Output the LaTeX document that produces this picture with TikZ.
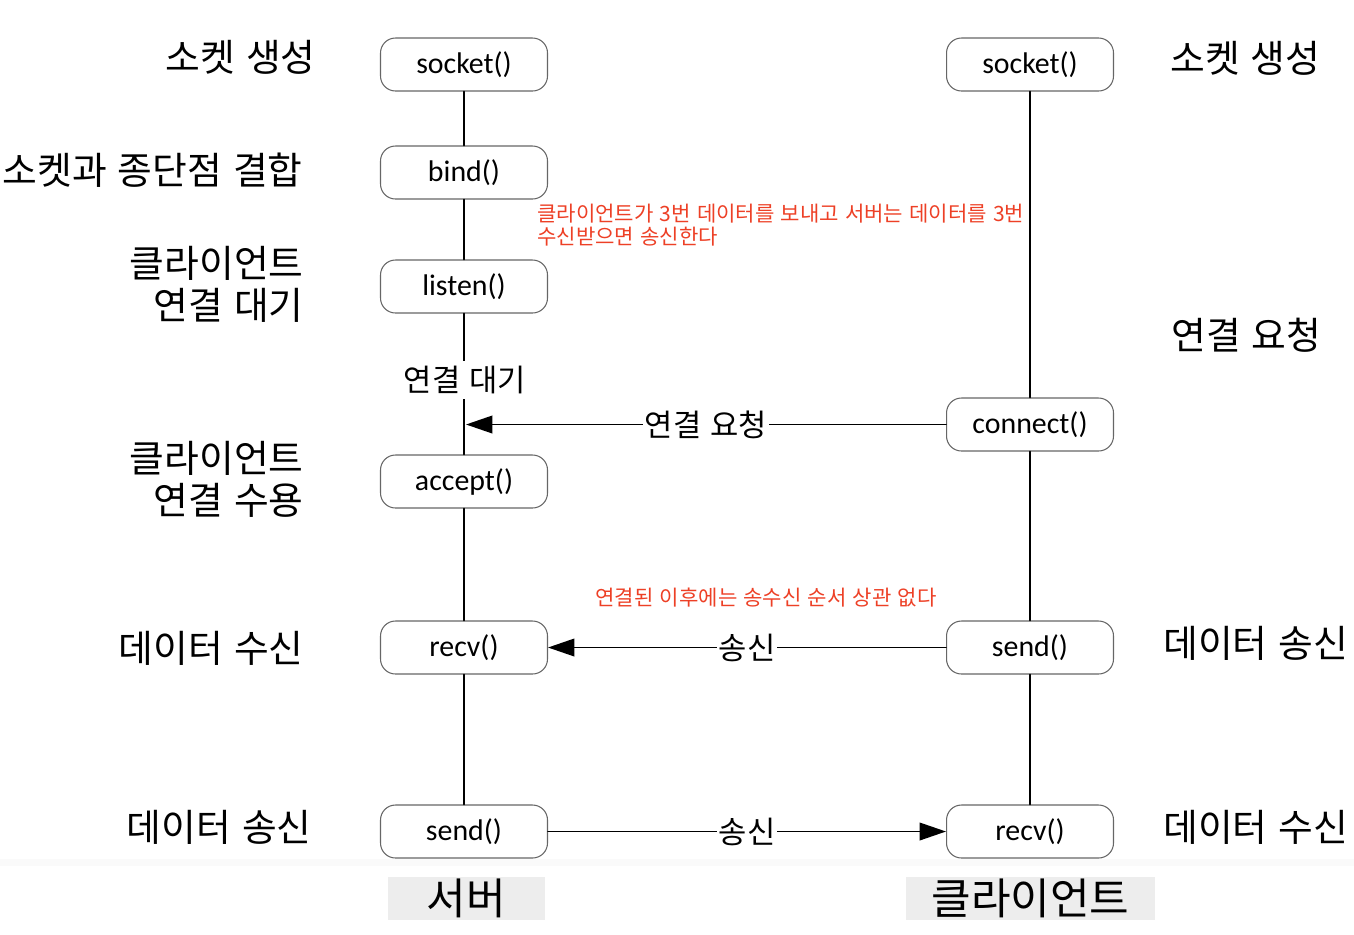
\documentclass[tikz,border=0pt]{standalone}
\usepackage{fontspec}
\setmainfont{Carlito}
\newfontfamily\kor[WordSpace=1.3]{Noto Sans CJK KR}
\usetikzlibrary{arrows.meta}
\definecolor{eettqq}{rgb}{0.93,0.25,0.15}
\definecolor{ebebeb}{rgb}{0.93,0.93,0.93}
\definecolor{wwwwww}{rgb}{0.4,0.4,0.4}

\begin{document}
\begin{tikzpicture}[x=0.02cm,y=-0.02cm,line cap=round,line join=round,>={Triangle[length=15pt,width=10pt]},
  fn/.style={draw=wwwwww,line width=0.6pt,fill=white,rounded corners=8.5pt,minimum width=3.34cm,minimum height=1.06cm,font=\fontsize{17}{19}\selectfont},
  side/.style={inner sep=0pt,font=\kor\fontsize{21.5}{24}\selectfont},
  msg/.style={fill=white,inner sep=1pt,font=\kor\fontsize{17.5}{19}\selectfont},
  note/.style={text=eettqq,inner sep=0pt,align=left,font=\kor\fontsize{12}{13}\selectfont},
  tag/.style={fill=ebebeb,inner sep=0pt,text height=20pt,text depth=2pt,minimum height=0.86cm,font=\kor\fontsize{24.5}{26}\selectfont}]
\useasboundingbox (0,0) rectangle (1354,934);
\fill[black!2] (0,859) rectangle (1354,866);
% server side
\node[fn] (ssocket) at (464,64.5) {socket()};
\node[fn] (sbind) at (464,172.5) {bind()};
\node[fn] (slisten) at (464,286.5) {listen()};
\node[fn] (saccept) at (464,481.5) {accept()};
\node[fn] (srecv) at (464,647.5) {recv()};
\node[fn] (ssend) at (464,831.5) {send()};
% client side
\node[fn] (csocket) at (1030,64.5) {socket()};
\node[fn] (cconnect) at (1030,424.5) {connect()};
\node[fn] (csend) at (1030,647.5) {send()};
\node[fn] (crecv) at (1030,831.5) {recv()};
% life lines
\draw[line width=1.1pt] (ssocket) -- (sbind);
\draw[line width=1.1pt] (sbind) -- (slisten);
\draw[line width=1.1pt] (slisten) -- (saccept);
\draw[line width=1.1pt] (saccept) -- (srecv);
\draw[line width=1.1pt] (srecv) -- (ssend);
\draw[line width=1.1pt] (csocket) -- (cconnect);
\draw[line width=1.1pt] (cconnect) -- (csend);
\draw[line width=1.1pt] (csend) -- (crecv);
\node[msg,inner sep=3pt] (wait) at (465,380) {연결 대기};
\coordinate (hit) at (466,424.5);
% messages
\draw[line width=1.1pt,->] (cconnect) -- (hit) node[msg,midway] (req) {연결 요청};
\draw[line width=1.1pt,->] (csend) -- (srecv) node[msg,midway] (tx1) {송신};
\draw[line width=1.1pt,->] (ssend) -- (crecv) node[msg,midway] (tx2) {송신};
% labels
\node[side,anchor=east] (l1) at (316,57) {소켓 생성};
\node[side,anchor=east] (l2) at (303,170) {소켓과 종단점 결합};
\node[side,anchor=east,align=right] (l3) at (304,284) {클라이언트\\연결 대기};
\node[side,anchor=east,align=right] (l4) at (304,479) {클라이언트\\연결 수용};
\node[side,anchor=east] (l5) at (304,648) {데이터 수신};
\node[side,anchor=east] (l6) at (312,827) {데이터 송신};
\node[side,anchor=west] (r1) at (1170,58) {소켓 생성};
\node[side,anchor=west] (r2) at (1171,335) {연결 요청};
\node[side,anchor=west] (r3) at (1163,643) {데이터 송신};
\node[side,anchor=west] (r4) at (1163,827) {데이터 수신};
\node[note,anchor=west] (n1) at (537,225) {클라이언트가 3번 데이터를 보내고 서버는 데이터를 3번\\수신받으면 송신한다};
\node[note] (n2) at (766,598) {연결된 이후에는 송수신 순서 상관 없다};
\node[tag,minimum width=3.14cm] (server) at (466.5,898.5) {서버};
\node[tag,minimum width=4.98cm] (client) at (1030.5,898.5) {클라이언트};
\end{tikzpicture}
\end{document}
